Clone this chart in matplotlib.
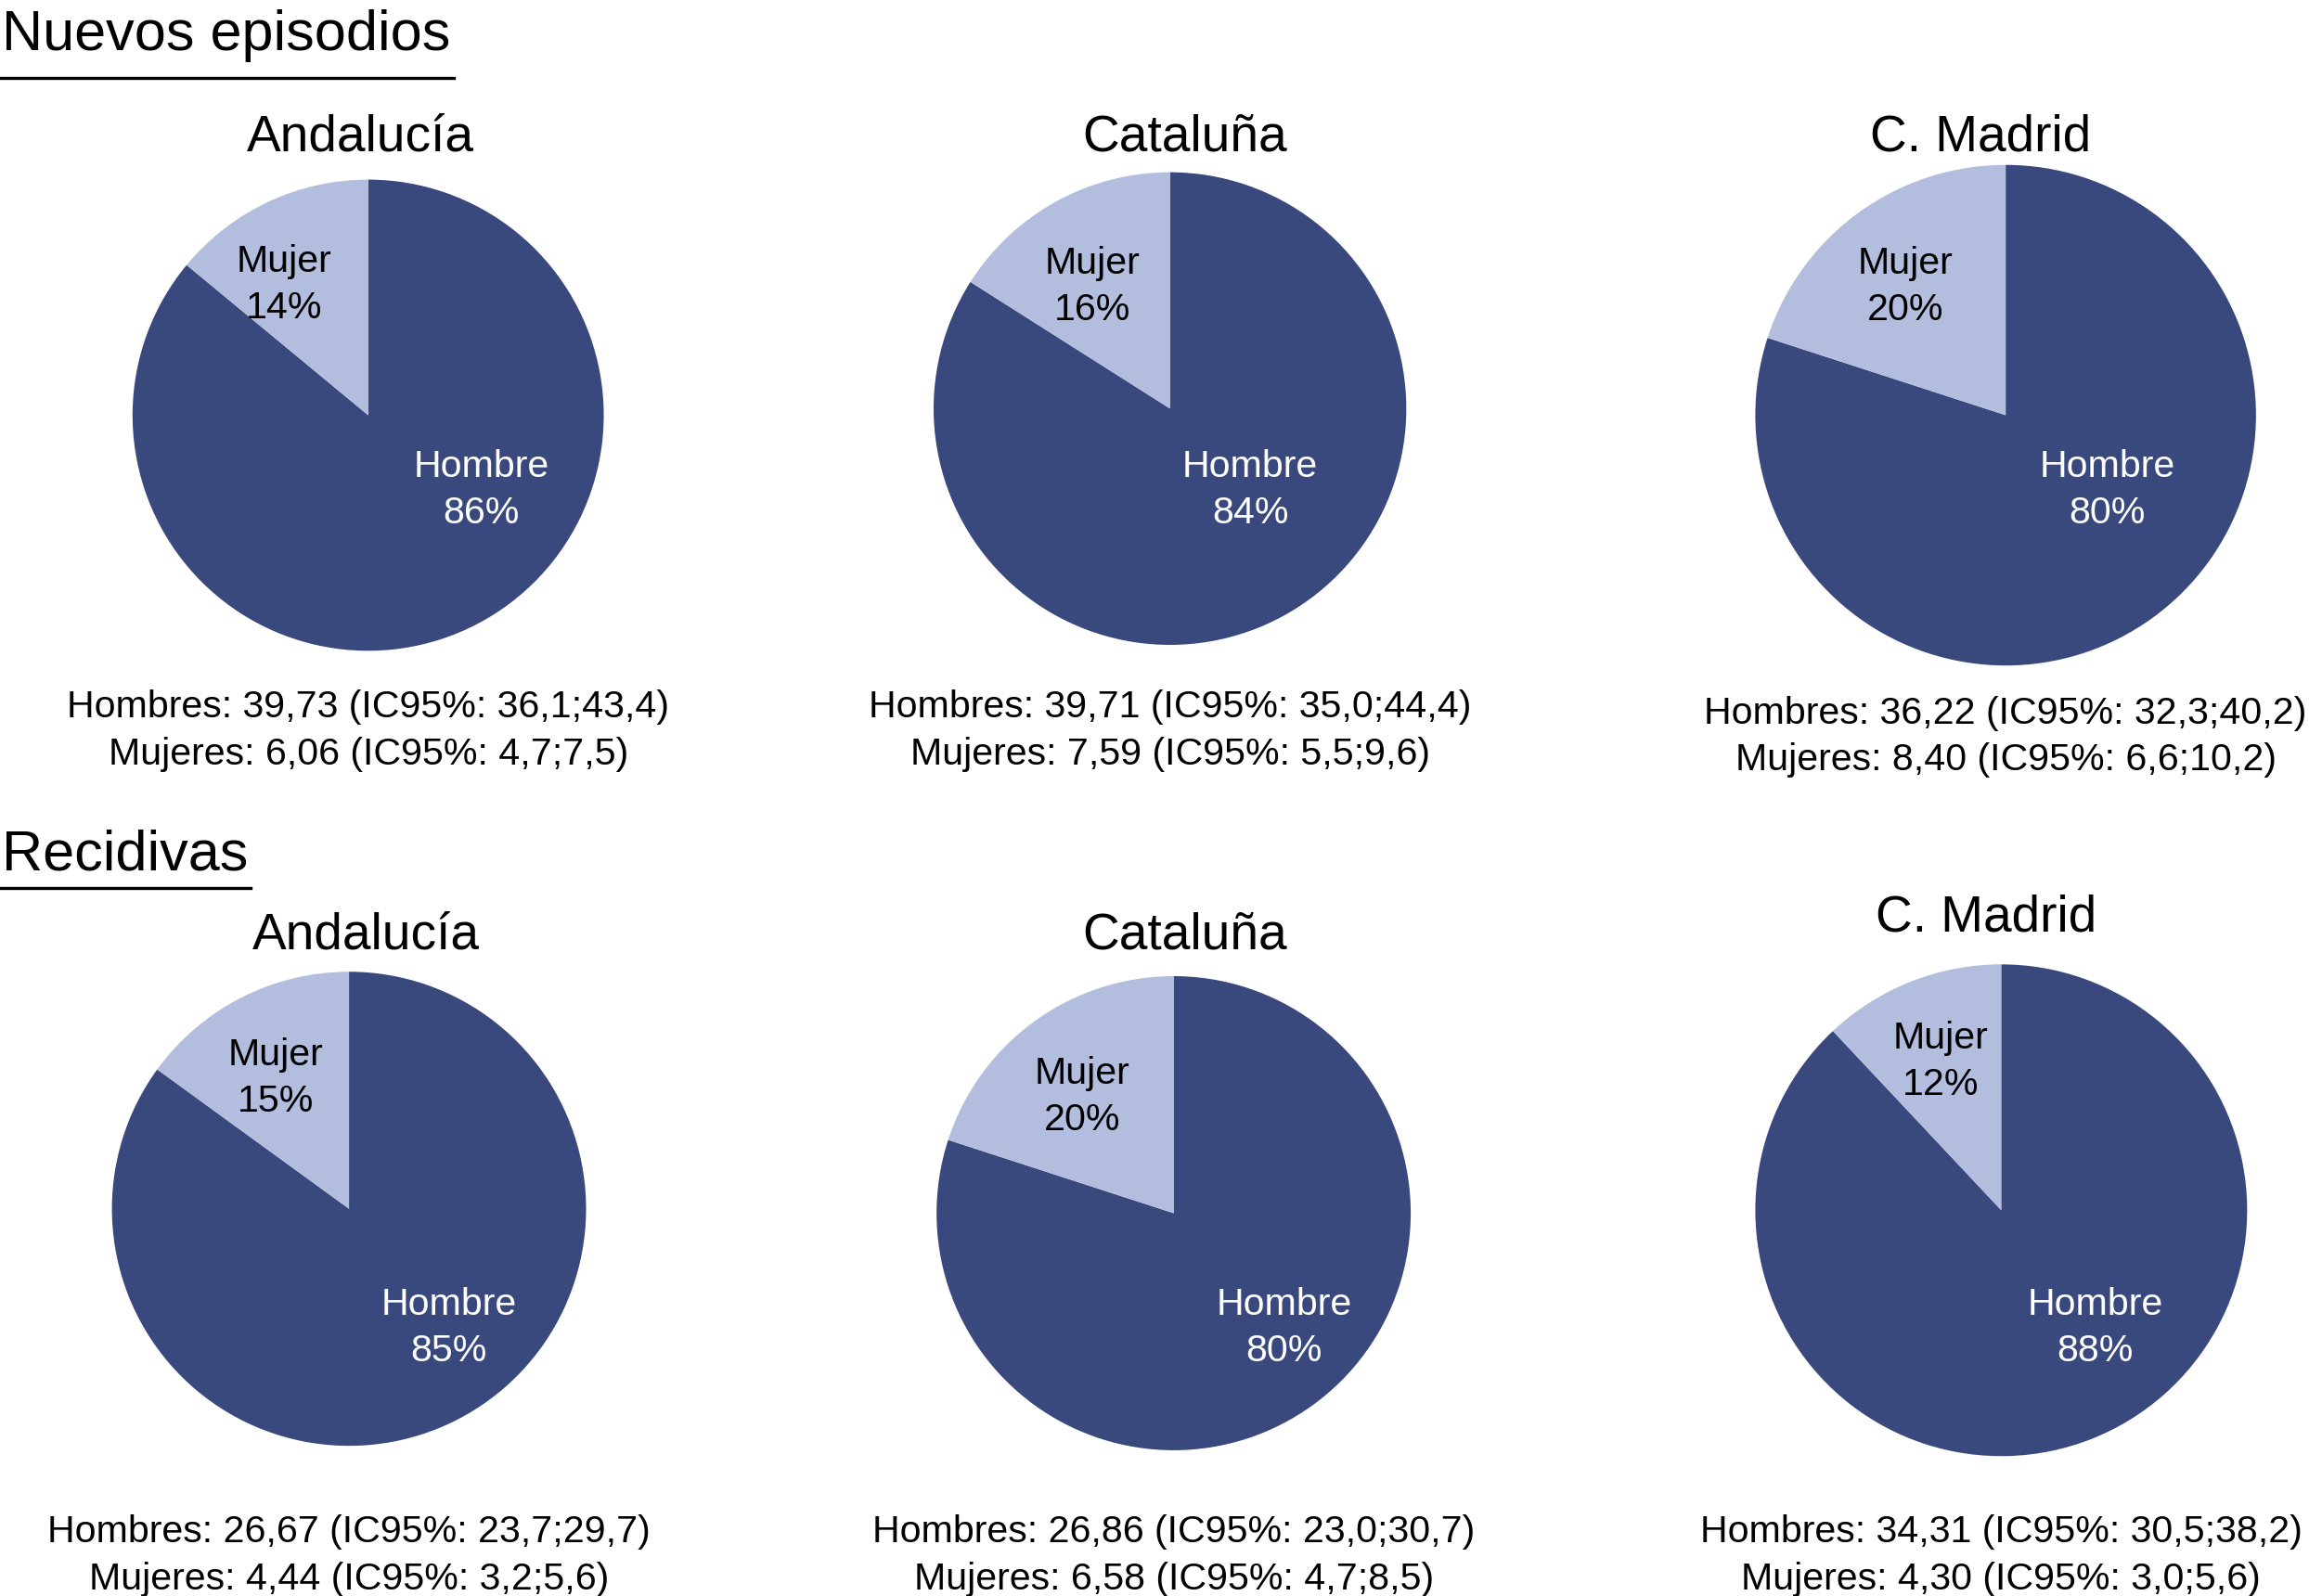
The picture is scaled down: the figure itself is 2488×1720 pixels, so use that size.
import matplotlib
matplotlib.use("Agg")
import matplotlib.pyplot as plt
from matplotlib.lines import Line2D

plt.rcParams['font.family'] = ['Liberation Sans', 'DejaVu Sans']

# --- datos ---
regiones = ["Andalucía", "Cataluña", "C. Madrid"]
secciones = ["Nuevos episodios", "Recidivas"]

nuevos_hombre_pct = [86, 84, 80]
nuevos_mujer_pct = [14, 16, 20]
recid_hombre_pct = [85, 80, 88]
recid_mujer_pct = [15, 20, 12]

nuevos_h_tasa = [39.73, 39.71, 36.22]
nuevos_h_ic = [(36.1, 43.4), (35.0, 44.4), (32.3, 40.2)]
nuevos_m_tasa = [6.06, 7.59, 8.40]
nuevos_m_ic = [(4.7, 7.5), (5.5, 9.6), (6.6, 10.2)]

recid_h_tasa = [26.67, 26.86, 34.31]
recid_h_ic = [(23.7, 29.7), (23.0, 30.7), (30.5, 38.2)]
recid_m_tasa = [4.44, 6.58, 4.30]
recid_m_ic = [(3.2, 5.6), (4.7, 8.5), (3.0, 5.6)]

HOMBRE_COLOR = '#3A497D'
MUJER_COLOR = '#B3BDDE'

# --- maquetación (en píxeles de una referencia de 1568x1084) ---
REF_W, REF_H = 1568.0, 1084.0
# centro x, centro y, radio
pie_geo = [
    [(250, 282, 160), (794.5, 277.5, 160.5), (1362, 282, 170)],
    [(237, 821, 161), (797, 824, 161), (1359, 822, 167)],
]
title_pos = [
    [(245, 90), (804.5, 90), (1345, 90)],
    [(248.5, 632), (804.5, 632), (1349, 620)],
]
stats_y = [[478, 478, 482], [1038, 1038, 1038]]
# posiciones de etiquetas relativas al radio
mujer_off = [[(-0.356, 0.566), (-0.327, 0.530), (-0.400, 0.526)],
             [(-0.311, 0.565), (-0.385, 0.503), (-0.246, 0.617)]]
hombre_off = [[(0.481, -0.306), (0.340, -0.333), (0.406, -0.288)],
              [(0.422, -0.491), (0.466, -0.472), (0.383, -0.467)]]
heading_pos = [(0, 20, 308, 53), (0, 577, 170, 603)]

SMALL = 29.6
TITLE = 39.6
HEAD = 44


def fx(x):
    return x / REF_W


def fy(y):
    return 1 - y / REF_H


def fmt(v, nd):
    return f"{v:.{nd}f}".replace('.', ',')


def two_lines(fig, x, y_center, lines, size, gap=32, color='black'):
    # y_center en el centro de la altura de mayúsculas de la primera línea
    cap = 0.716 * size * 100 / 72 / (2488 / REF_W)
    for i, txt in enumerate(lines):
        fig.text(fx(x), fy(y_center + i * gap + cap / 2), txt, ha='center',
                 va='baseline', fontsize=size, color=color)


fig = plt.figure(figsize=(24.88, 17.20), dpi=100)
fig.patch.set_facecolor('white')

pcts = [(nuevos_hombre_pct, nuevos_mujer_pct), (recid_hombre_pct, recid_mujer_pct)]
stats = [(nuevos_h_tasa, nuevos_h_ic, nuevos_m_tasa, nuevos_m_ic),
         (recid_h_tasa, recid_h_ic, recid_m_tasa, recid_m_ic)]

for row, seccion in enumerate(secciones):
    hx, hy, lx, ly = heading_pos[row]
    cap = 0.716 * HEAD * 100 / 72 / (2488 / REF_W)
    fig.text(fx(hx + 1), fy(hy + cap / 2), seccion, ha='left', va='baseline',
             fontsize=HEAD, color='black')
    fig.add_artist(Line2D([fx(hx), fx(lx)], [fy(ly), fy(ly)], color='black',
                          linewidth=2.4, transform=fig.transFigure))

    hombres, mujeres = pcts[row]
    h_tasa, h_ic, m_tasa, m_ic = stats[row]
    for col, region in enumerate(regiones):
        cx, cy, r = pie_geo[row][col]
        ax = fig.add_axes([fx(cx - r), fy(cy + r), 2 * r / REF_W, 2 * r / REF_H])
        ax.pie([hombres[col], mujeres[col]], colors=[HOMBRE_COLOR, MUJER_COLOR],
               startangle=90, counterclock=False, radius=1,
               wedgeprops=dict(linewidth=0))
        ax.set_xlim(-1, 1)
        ax.set_ylim(-1, 1)
        ax.set_axis_off()

        mx, my = mujer_off[row][col]
        two_lines(fig, cx + mx * r, cy - my * r - 16,
                  ["Mujer", f"{mujeres[col]}%"], SMALL, gap=31.5)
        hx2, hy2 = hombre_off[row][col]
        two_lines(fig, cx + hx2 * r, cy - hy2 * r - 16,
                  ["Hombre", f"{hombres[col]}%"], SMALL, gap=31.5, color='white')

        tx, ty = title_pos[row][col]
        cap = 0.716 * TITLE * 100 / 72 / (2488 / REF_W)
        fig.text(fx(tx), fy(ty + cap / 2), region, ha='center', va='baseline',
                 fontsize=TITLE, color='black')

        lines = [
            f"Hombres: {fmt(h_tasa[col], 2)} (IC95%: {fmt(h_ic[col][0], 1)};{fmt(h_ic[col][1], 1)})",
            f"Mujeres: {fmt(m_tasa[col], 2)} (IC95%: {fmt(m_ic[col][0], 1)};{fmt(m_ic[col][1], 1)})",
        ]
        two_lines(fig, cx, stats_y[row][col], lines, SMALL, gap=32)

fig.savefig("out.png", dpi=100)
